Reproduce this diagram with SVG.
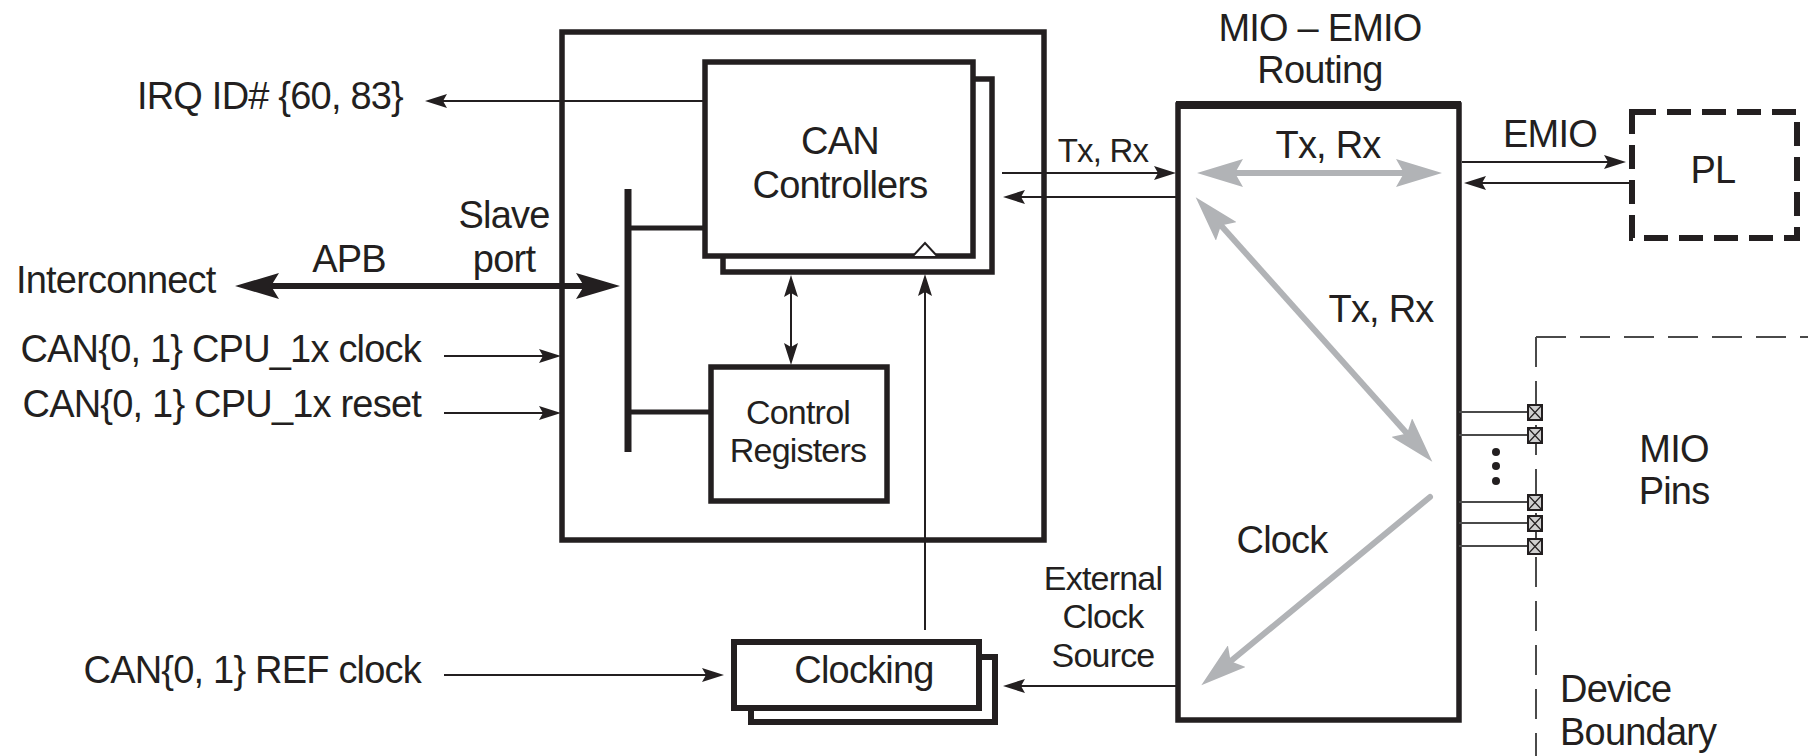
<svg xmlns="http://www.w3.org/2000/svg" width="1808" height="756" viewBox="0 0 1808 756">
<style>
text{font-family:"Liberation Sans",Arial,Helvetica,sans-serif;fill:#231f20;letter-spacing:-0.8px}
.l{font-size:38px}
.s{font-size:34px}
.m{text-anchor:middle}
.e{text-anchor:end}
.box{fill:none;stroke:#231f20;stroke-width:5.5}
.wbox{fill:#fff;stroke:#231f20;stroke-width:5.5}
.thin{fill:none;stroke:#231f20;stroke-width:2}
.bus{fill:none;stroke:#231f20;stroke-width:5}
.gray{fill:none;stroke:#b1b3b6;stroke-width:6}
.pin{fill:#cfcfcf;stroke:#231f20;stroke-width:2}
.pl{fill:none;stroke:#4a4a4a;stroke-width:2}
</style>
<defs>
<marker id="a" viewBox="0 0 22 14" refX="8" refY="7" markerWidth="22" markerHeight="14" markerUnits="userSpaceOnUse" orient="auto-start-reverse"><path d="M0,0 L22,7 L0,14 L4,7 z" fill="#231f20"/></marker>
<marker id="A" viewBox="0 0 44 26" refX="14" refY="13" markerWidth="44" markerHeight="26" markerUnits="userSpaceOnUse" orient="auto-start-reverse"><path d="M0,0 L44,13 L0,26 L8,13 z" fill="#231f20"/></marker>
<marker id="g" viewBox="0 0 46 28" refX="14" refY="14" markerWidth="46" markerHeight="28" markerUnits="userSpaceOnUse" orient="auto-start-reverse"><path d="M0,0 L46,14 L0,28 L8,14 z" fill="#b1b3b6"/></marker>
</defs>

<g id="can-block">
<rect class="box" x="562" y="32" width="482" height="508"/>
</g>

<g id="can-controllers">
<rect class="box" x="723" y="79" width="269" height="193"/>
<rect class="wbox" x="705" y="62" width="268" height="194"/>
<path d="M913,256 L925,243 L937,256" fill="#fff" stroke="#231f20" stroke-width="2"/>
<text class="l m" x="840" y="154">CAN</text>
<text class="l m" x="840" y="198">Controllers</text>
</g>

<g id="control-registers">
<rect class="box" x="711" y="367" width="176" height="134"/>
<text class="s m" x="798" y="424">Control</text>
<text class="s m" x="798" y="462">Registers</text>
</g>

<g id="clocking">
<rect class="box" x="751" y="657" width="244" height="65" style="stroke-width:6"/>
<rect class="wbox" x="734" y="642" width="245" height="66" style="stroke-width:6"/>
<text class="l m" x="864" y="683">Clocking</text>
</g>

<g id="mio-emio">
<rect class="box" x="1178" y="105" width="281" height="615"/>
<path d="M1176,105 H1461" stroke="#231f20" stroke-width="8"/>
<text class="l m" x="1320" y="41">MIO – EMIO</text>
<text class="l m" x="1320" y="83">Routing</text>
</g>

<g id="pl">
<rect x="1632" y="112" width="165" height="126" fill="none" stroke="#231f20" stroke-width="6" stroke-dasharray="24 11"/>
<text class="l m" x="1713" y="183">PL</text>
</g>

<g id="device-boundary">
<path class="pl" d="M1536,337 H1808" stroke-dasharray="30 14"/>
<path class="pl" d="M1536,337 V756" stroke-dasharray="30 14"/>
<text class="l" x="1560" y="702">Device</text>
<text class="l" x="1560" y="745">Boundary</text>
</g>

<g id="mio-pins">
<path class="pl" d="M1459,412 H1528 M1459,435 H1528 M1459,502 H1528 M1459,523 H1528 M1459,546 H1528"/>
<rect class="pin" x="1528" y="405" width="14" height="15"/>
<rect class="pin" x="1528" y="428" width="14" height="15"/>
<rect class="pin" x="1528" y="495" width="14" height="15"/>
<rect class="pin" x="1528" y="516" width="14" height="15"/>
<rect class="pin" x="1528" y="539" width="14" height="15"/>
<path d="M1528,405 l14,15 m0,-15 l-14,15 M1528,428 l14,15 m0,-15 l-14,15 M1528,495 l14,15 m0,-15 l-14,15 M1528,516 l14,15 m0,-15 l-14,15 M1528,539 l14,15 m0,-15 l-14,15" stroke="#231f20" stroke-width="1.2"/>
<circle cx="1496" cy="452" r="4" fill="#231f20"/>
<circle cx="1496" cy="466" r="4" fill="#231f20"/>
<circle cx="1496" cy="481" r="4" fill="#231f20"/>
<text class="l m" x="1674" y="462">MIO</text>
<text class="l m" x="1674" y="504">Pins</text>
</g>

<g id="labels">
<text class="l e" x="403" y="109">IRQ ID# {60, 83}</text>
<text class="l" x="16" y="293">Interconnect</text>
<text class="l m" x="349" y="272">APB</text>
<text class="l m" x="504" y="228">Slave</text>
<text class="l m" x="504" y="272">port</text>
<text class="l e" x="421" y="362">CAN{0, 1} CPU_1x clock</text>
<text class="l e" x="421" y="417">CAN{0, 1} CPU_1x reset</text>
<text class="l e" x="421" y="683">CAN{0, 1} REF clock</text>
<text class="m" style="font-size:33px" x="1103" y="162">Tx, Rx</text>
<text class="l m" x="1328" y="158">Tx, Rx</text>
<text class="l m" x="1381" y="322">Tx, Rx</text>
<text class="l m" x="1282" y="553">Clock</text>
<text class="l m" x="1550" y="147">EMIO</text>
<text class="s m" x="1103" y="590">External</text>
<text class="s m" x="1103" y="628">Clock</text>
<text class="s m" x="1103" y="667">Source</text>
</g>

<g id="connectors">
<path class="thin" d="M705,101 H439" marker-end="url(#a)"/>
<path class="thin" d="M562,286 H590" style="stroke-width:6" marker-end="url(#A)"/>
<path class="thin" d="M265,286 H562" style="stroke-width:6" marker-start="url(#A)"/>
<path class="thin" d="M444,356 H547" marker-end="url(#a)"/>
<path class="thin" d="M444,413 H547" marker-end="url(#a)"/>
<path class="thin" d="M444,675 H710" marker-end="url(#a)"/>
<path class="bus" d="M628,189 V452" style="stroke-width:7"/>
<path class="bus" d="M628,228 H705 M628,412 H711"/>
<path class="thin" d="M791,289 V351" marker-start="url(#a)" marker-end="url(#a)"/>
<path class="thin" d="M925,630 V288" marker-end="url(#a)"/>
<path class="thin" d="M1002,173 H1162" marker-end="url(#a)"/>
<path class="thin" d="M1176,197 H1017" marker-end="url(#a)"/>
<path class="thin" d="M1178,686 H1017" marker-end="url(#a)"/>
<path class="thin" d="M1462,162 H1612" marker-end="url(#a)"/>
<path class="thin" d="M1629,183 H1478" marker-end="url(#a)"/>
<path class="gray" d="M1229,173 H1410" marker-start="url(#g)" marker-end="url(#g)"/>
<path class="gray" d="M1217,221 L1411,438" marker-start="url(#g)" marker-end="url(#g)"/>
<path class="gray" d="M1430,497 L1226,665" style="stroke-linecap:round" marker-end="url(#g)"/>
</g>
</svg>
